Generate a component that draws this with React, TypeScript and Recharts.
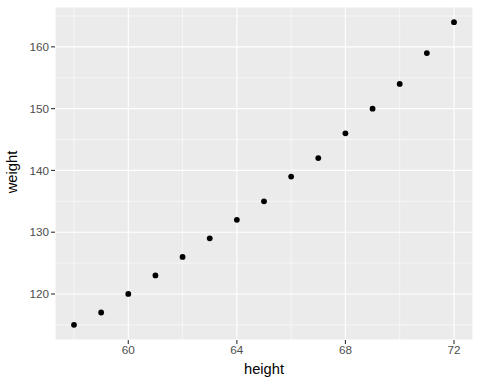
import React from 'react'
import {
  ScatterChart, Scatter, XAxis, YAxis, CartesianGrid, ReferenceLine, Label,
} from 'recharts'

/* ─── data (women dataset) ─── */
const heights = [58, 59, 60, 61, 62, 63, 64, 65, 66, 67, 68, 69, 70, 71, 72]
const weights = [115, 117, 120, 123, 126, 129, 132, 135, 139, 142, 146, 150, 154, 159, 164]
const xTicks = [60, 64, 68, 72]
const yTicks = [120, 130, 140, 150, 160]
const xMinor = [58, 62, 66, 70]
const yMinor = [115, 125, 135, 145, 155, 165]

const points = heights.map((h, i) => ({ height: h, weight: weights[i] }))

const tickStyle = { fontSize: 11.7, fill: '#4D4D4D', fontFamily: 'Liberation Sans, Arial, sans-serif' }
const titleStyle = { fontSize: 14.7, fill: '#000000', fontFamily: 'Liberation Sans, Arial, sans-serif' }

const Dot = (props: any) => <circle cx={props.cx} cy={props.cy} r={2.9} fill="#000000" />

export default function App() {
  return (
    <div style={{ position: 'absolute', left: 0, top: 0, width: 480, height: 384, background: '#FFFFFF' }}>
      <ScatterChart width={480} height={384} margin={{ top: 7, right: 7, left: 0, bottom: 0 }}>
        <CartesianGrid fill="#EBEBEB" stroke="#FFFFFF" strokeWidth={1.1} />
        {xMinor.map((v) => (
          <ReferenceLine key={'x' + v} x={v} stroke="#FFFFFF" strokeWidth={0.55} />
        ))}
        {yMinor.filter((v) => v < 166.45).map((v) => (
          <ReferenceLine key={'y' + v} y={v} stroke="#FFFFFF" strokeWidth={0.55} />
        ))}
        <XAxis
          type="number" dataKey="height" domain={[57.3, 72.7]} ticks={xTicks}
          allowDataOverflow height={44} axisLine={false}
          tickLine={{ stroke: '#333333', strokeWidth: 1.1 }} tickSize={4} tickMargin={2}
          tick={tickStyle}
        >
          <Label
            content={() => (
              <text x={264} y={374} textAnchor="middle" style={titleStyle}>height</text>
            )}
          />
        </XAxis>
        <YAxis
          type="number" dataKey="weight" domain={[112.55, 166.45]} ticks={yTicks}
          allowDataOverflow width={55} axisLine={false}
          tickLine={{ stroke: '#333333', strokeWidth: 1.1 }} tickSize={4} tickMargin={2}
          tick={tickStyle}
        >
          <Label
            content={() => (
              <text x={17} y={172} textAnchor="middle" transform="rotate(-90 17 172)" style={titleStyle}>weight</text>
            )}
          />
        </YAxis>
        <Scatter data={points} shape={<Dot />} isAnimationActive={false} />
      </ScatterChart>
    </div>
  )
}
